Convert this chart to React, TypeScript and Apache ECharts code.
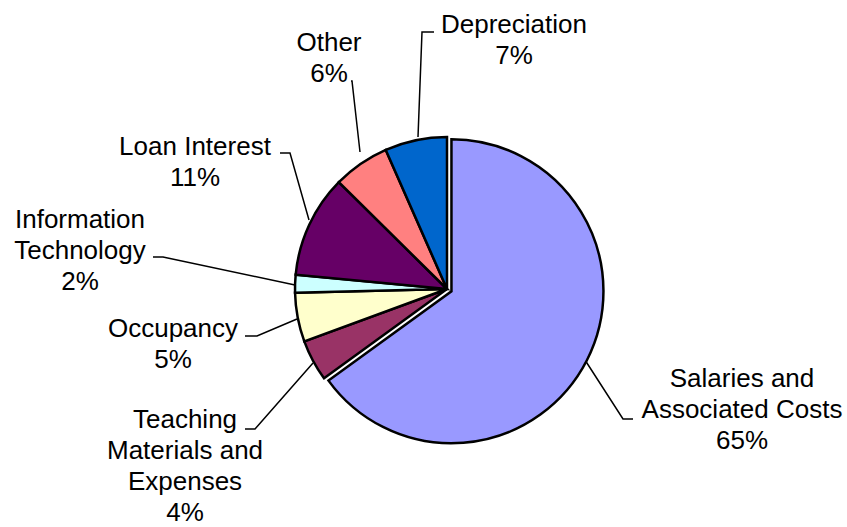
import React, { useEffect, useRef } from "react";
import * as echarts from "echarts";

const categories = [
  "Salaries and\nAssociated Costs",
  "Teaching\nMaterials and\nExpenses",
  "Occupancy",
  "Information\nTechnology",
  "Loan Interest",
  "Other",
  "Depreciation",
];
const values = [65.0, 4.4, 5.2, 1.9, 10.9, 6.0, 6.6];
const colors = ["#9999FF", "#993366", "#FFFFCC", "#CCFFFF", "#660066", "#FF8080", "#0066CC"];
const explodedIndex = 0;

// label block centres (layout, pixels)
const labelPos: [number, number][] = [
  [742, 409],
  [185, 465],
  [173, 343],
  [80, 250],
  [195, 161],
  [329, 57],
  [514, 39],
];
// leader lines (layout, pixels)
const leaderLines: [number, number][][] = [
  [[585, 360], [623, 419], [633, 419]],
  [[313, 363], [255, 429], [245, 429]],
  [[297, 319], [257, 336], [245, 336]],
  [[295, 285], [163, 257], [153, 257]],
  [[309, 220], [290, 153], [280, 153]],
  [[360, 152], [352, 81], [351, 81]],
  [[418, 137], [422, 32], [434, 32]],
];

const CX = 447;
const CY = 289;
const R = 152;
const EXPLODE = 5;

export default function App() {
  const ref = useRef<HTMLDivElement>(null);
  useEffect(() => {
    if (!ref.current) return;
    const chart = echarts.init(ref.current, null, { renderer: "svg" });
    const total = values.reduce((a, b) => a + b, 0);
    let before = 0;
    for (let i = 0; i < explodedIndex; i++) before += values[i];
    const midAngle = ((before + values[explodedIndex] / 2) / total) * 2 * Math.PI;
    const ox = EXPLODE * Math.sin(midAngle);
    const oy = -EXPLODE * Math.cos(midAngle);

    const labelStyle = {
      position: "outside",
      color: "#000000",
      fontFamily: "Liberation Sans, Arial, sans-serif",
      fontSize: 26,
      lineHeight: 31,
      align: "center",
      formatter: (p: any) => `${p.name}\n${Math.round(p.percent)}%`,
    };
    const layout = (params: any) => {
      const i = params.dataIndex;
      return {
        x: labelPos[i][0],
        y: labelPos[i][1],
        align: "center",
        verticalAlign: "middle",
        labelLinePoints: leaderLines[i],
      };
    };
    const makeSeries = (exploded: boolean, center: [number, number]) => ({
      type: "pie",
      center,
      radius: R,
      startAngle: 90,
      clockwise: true,
      silent: true,
      avoidLabelOverlap: false,
      emphasis: { disabled: true },
      label: { show: true, ...labelStyle },
      labelLine: { show: true, lineStyle: { color: "#000000", width: 1.5 } },
      labelLayout: layout,
      data: categories.map((name, i) => {
        const visible = exploded ? i === explodedIndex : i !== explodedIndex;
        return {
          name,
          value: values[i],
          itemStyle: visible
            ? { color: colors[i], borderColor: "#000000", borderWidth: 2.5, borderJoin: "miter" }
            : { color: "rgba(0,0,0,0)", borderWidth: 0 },
          label: { show: visible },
          labelLine: { show: visible },
        };
      }),
    });

    chart.setOption({
      animation: false,
      backgroundColor: "#ffffff",
      series: [makeSeries(false, [CX, CY]), makeSeries(true, [CX + ox, CY + oy])],
    });
    return () => chart.dispose();
  }, []);
  return (
    <div
      ref={ref}
      style={{ position: "fixed", left: 0, top: 0, width: 847, height: 527 }}
    />
  );
}
